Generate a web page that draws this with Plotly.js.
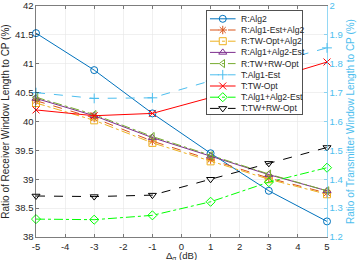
<!DOCTYPE html>
<html>
<head>
<meta charset="utf-8">
<script src="https://cdn.plot.ly/plotly-3.0.1.min.js"></script>
<style>
  html, body { margin: 0; padding: 0; background: #fff; }
  #chart { width: 357px; height: 260px; }
</style>
</head>
<body>
<div id="chart"></div>
<script>
// Window-length ratios versus the power-delay mismatch Δσ (dB)
const deltaSigma = [-5, -3, -1, 1, 3, 5];

// Receiver window length / CP (%), left axis
const rAlg2        = [41.53, 40.89, 40.14, 39.45, 38.80, 38.27];
const rAlg1EstAlg2 = [40.36, 40.06, 39.66, 39.34, 39.02, 38.76];
const rTwOptAlg2   = [40.32, 40.02, 39.63, 39.31, 39.00, 38.74];
const rAlg1Alg2Est = [40.40, 40.10, 39.72, 39.40, 39.08, 38.80];
const rTwRwOpt     = [40.42, 40.12, 39.74, 39.41, 39.09, 38.80];

// Transmitter window length / CP (%), right axis
const tAlg1Est     = [1.700, 1.680, 1.682, 1.740, 1.800, 1.855];
const tTwOpt       = [1.640, 1.620, 1.628, 1.683, 1.745, 1.806];
const tAlg1Alg2Est = [1.262, 1.260, 1.275, 1.322, 1.390, 1.440];
const tTwRwOpt     = [1.342, 1.340, 1.345, 1.400, 1.455, 1.510];

const seriesNames = [
  'R:Alg2', 'R:Alg1-Est+Alg2', 'R:TW-Opt+Alg2', 'R:Alg1+Alg2-Est', 'R:TW+RW-Opt',
  'T:Alg1-Est', 'T:TW-Opt', 'T:Alg1+Alg2-Est', 'T:TW+RW-Opt'
];

const xTickVals = [-5, -4, -3, -2, -1, 0, 1, 2, 3, 4, 5];
const xTickText = ['-5', '-4', '-3', '-2', '-1', '0', '1', '2', '3', '4', '5'];
const leftTickVals = [38, 38.5, 39, 39.5, 40, 40.5, 41, 41.5, 42];
const rightTickVals = [1.2, 1.3, 1.4, 1.5, 1.6, 1.7, 1.8, 1.9, 2];

const ink = '#262626';
const tColor = '#4DBEEE';
const font = '"Liberation Sans", Arial, sans-serif';

const seriesValues = [rAlg2, rAlg1EstAlg2, rTwOptAlg2, rAlg1Alg2Est, rTwRwOpt,
                      tAlg1Est, tTwOpt, tAlg1Alg2Est, tTwRwOpt];
const styles = [
  { color: '#0072BD', dash: 'solid',   symbol: 'circle-open',        axis: 'y'  },
  { color: '#D95319', dash: 'dash',    symbol: 'asterisk-open',      axis: 'y'  },
  { color: '#EDB120', dash: 'dashdot', symbol: 'square-open',        axis: 'y'  },
  { color: '#7E2F8E', dash: 'solid',   symbol: 'triangle-up-open',   axis: 'y'  },
  { color: '#77AC30', dash: 'dashdot', symbol: 'triangle-left-open', axis: 'y'  },
  { color: '#4DBEEE', dash: 'dash',    symbol: 'cross-thin-open',    axis: 'y2' },
  { color: '#FF0000', dash: 'solid',   symbol: 'x-thin-open',        axis: 'y2' },
  { color: '#00FF00', dash: 'dashdot', symbol: 'diamond-open',       axis: 'y2' },
  { color: '#000000', dash: 'dash',    symbol: 'triangle-down-open', axis: 'y2' }
];

const traces = seriesValues.map((vals, i) => ({
  type: 'scatter',
  mode: 'lines+markers',
  name: seriesNames[i],
  x: deltaSigma,
  y: vals,
  yaxis: styles[i].axis,
  line: { color: styles[i].color, width: 1, dash: styles[i].dash },
  marker: { symbol: styles[i].symbol, size: 7, color: styles[i].color,
            line: { color: styles[i].color, width: 1 } },
  cliponaxis: false,
  showlegend: false
}));

// Legend keys: one short line sample per series with its marker in the middle,
// stacked by series index on a small dedicated axis pair.
const legendKeyX = [0.03, 0.165, 0.30];
const legendTraces = seriesNames.map((name, i) => ({
  type: 'scatter',
  mode: 'lines+markers',
  x: legendKeyX,
  y: legendKeyX.map(() => -i),
  xaxis: 'x3',
  yaxis: 'y3',
  line: { color: styles[i].color, width: 1, dash: styles[i].dash },
  marker: { symbol: styles[i].symbol, size: [0, 7, 0], color: styles[i].color,
            opacity: [0, 1, 0], line: { color: styles[i].color, width: 1 } },
  cliponaxis: false,
  showlegend: false,
  hoverinfo: 'skip'
}));
const legendYRange = [0.69 - 9.2, 0.69];
const legendLabels = seriesNames.map((name, i) => ({
  xref: 'x3', yref: 'y3', x: 0.34, y: -i,
  text: name, showarrow: false, xanchor: 'left', yanchor: 'middle',
  font: { family: font, size: 8.6, color: ink }
}));

// x-axis caption sits just under the tick labels, at the bottom edge
const xCaption = {
  xref: 'paper', yref: 'paper', x: 0.5, y: -0.0515,
  xanchor: 'center', yanchor: 'top', showarrow: false,
  text: 'Δ<sub>σ</sub> (dB)', borderpad: 0,
  font: { family: font, size: 9.5, color: ink }
};

const layout = {
  width: 357,
  height: 260,
  margin: { l: 36, r: 30, t: 6, b: 23, pad: 0 },
  paper_bgcolor: '#ffffff',
  plot_bgcolor: '#ffffff',
  font: { family: font, size: 9.5, color: ink },
  showlegend: false,
  xaxis: {
    range: [-5, 5],
    tickvals: xTickVals,
    ticktext: xTickText,
    ticks: 'inside', ticklen: 3, tickcolor: ink, tickwidth: 0.6,
    ticklabelstandoff: 1,
    showline: true, linecolor: ink, linewidth: 0.6, mirror: 'ticks',
    showgrid: true, gridcolor: '#e6e6e6', gridwidth: 0.6,
    zeroline: false,
    tickfont: { family: font, size: 9.5, color: ink }
  },
  yaxis: {
    range: [38, 42],
    tickvals: leftTickVals,
    ticks: 'inside', ticklen: 3, tickcolor: ink, tickwidth: 0.6,
    showline: true, linecolor: ink, linewidth: 0.6,
    showgrid: true, gridcolor: '#e6e6e6', gridwidth: 0.6,
    zeroline: false,
    tickfont: { family: font, size: 9.5, color: ink },
    title: { text: 'Ratio of Receiver Window Length to CP (%)',
             font: { family: font, size: 10, color: ink }, standoff: 4 }
  },
  yaxis2: {
    overlaying: 'y',
    side: 'right',
    range: [1.2, 2],
    tickvals: rightTickVals,
    ticks: 'inside', ticklen: 3, tickcolor: tColor, tickwidth: 0.6,
    showline: true, linecolor: tColor, linewidth: 0.6,
    showgrid: false, zeroline: false,
    tickfont: { family: font, size: 9.5, color: tColor },
    title: { text: 'Ratio of Transmitter Window Length to CP (%)',
             font: { family: font, size: 10, color: tColor }, standoff: 5 }
  },
  xaxis3: {
    domain: [0.588, 0.914], anchor: 'y3', range: [0, 1],
    showline: true, mirror: true, linecolor: ink, linewidth: 0.8,
    showgrid: false, zeroline: false, showticklabels: false, ticks: '', fixedrange: true
  },
  yaxis3: {
    domain: [0.532, 0.978], anchor: 'x3', range: legendYRange,
    showline: true, mirror: true, linecolor: ink, linewidth: 0.8,
    showgrid: false, zeroline: false, showticklabels: false, ticks: '', fixedrange: true
  },
  shapes: [{
    type: 'rect', xref: 'x3', yref: 'y3', layer: 'below',
    x0: 0, x1: 1, y0: legendYRange[0], y1: legendYRange[1],
    fillcolor: '#ffffff', line: { width: 0 }
  }],
  annotations: legendLabels.concat([xCaption])
};

Plotly.newPlot('chart', traces.concat(legendTraces), layout,
  { displayModeBar: false, staticPlot: true });
</script>
</body>
</html>
